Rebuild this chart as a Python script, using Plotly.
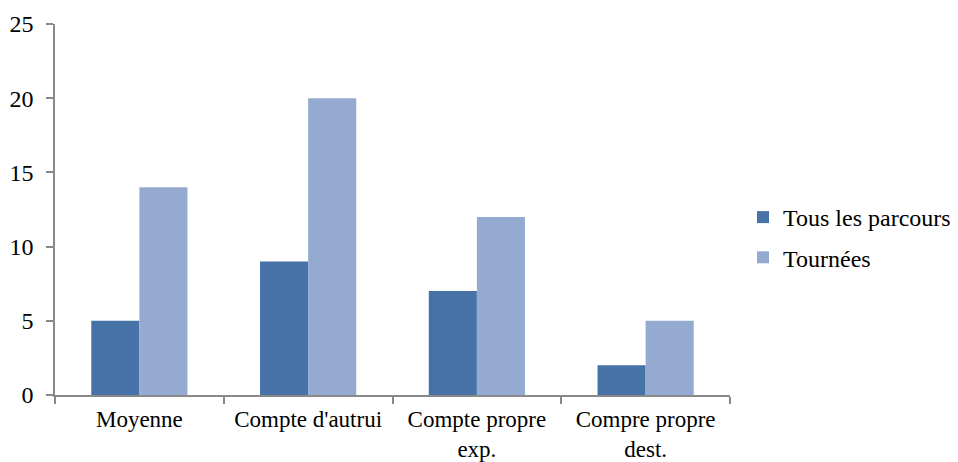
import plotly.graph_objects as go

categories = ["Moyenne", "Compte d'autrui", "Compte propre<br>exp.", "Compre propre<br>dest."]
tous_les_parcours = [5, 9, 7, 2]
tournees = [14, 20, 12, 5]
series_names = ["Tous les parcours", "Tournées"]
y_ticks = [0, 5, 10, 15, 20, 25]

font_family = "Liberation Serif, Times New Roman, serif"
axis_color = "#898989"

fig = go.Figure()
fig.add_trace(go.Bar(x=categories, y=tous_les_parcours, name=series_names[0],
                     marker=dict(color="#4672A8", line=dict(width=0)), legendgroup="a"))
fig.add_trace(go.Bar(x=categories, y=tournees, name=series_names[1],
                     marker=dict(color="#94AAD1", line=dict(width=0)), legendgroup="b"))

# the page body has an 8px margin, so the figure is 8px smaller and shifted
fig.update_layout(
    width=950, height=454,
    margin=dict(l=47, r=228, t=16, b=67, autoexpand=False),
    paper_bgcolor="white", plot_bgcolor="white",
    font=dict(family=font_family, size=24, color="black"),
    barmode="group", bargap=0.43, bargroupgap=0,
    legend=dict(xref="container", yref="container", x=0.7737, y=0.4945,
                xanchor="left", yanchor="middle",
                tracegroupgap=6, font=dict(size=24)),
    xaxis=dict(showline=True, linecolor=axis_color, linewidth=1.5,
               ticks="outside", tickson="boundaries", ticklen=7, tickcolor=axis_color,
               tickwidth=1.5, showgrid=False, zeroline=False, automargin=False,
               ticklabelstandoff=3, tickfont=dict(size=23)),
    yaxis=dict(range=[0, 25], tickvals=y_ticks, showline=True, linecolor=axis_color,
               linewidth=1.5, ticks="outside", ticklen=7, tickcolor=axis_color,
               tickwidth=1.5, showgrid=False, zeroline=False, automargin=False,
               ticklabelstandoff=8),
)

fig.write_html("out.html")
